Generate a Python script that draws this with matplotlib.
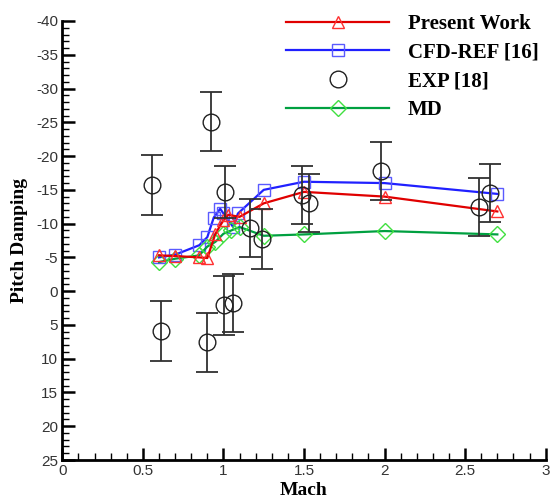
import matplotlib
matplotlib.use("Agg")
import matplotlib.pyplot as plt
from matplotlib.ticker import MultipleLocator
from matplotlib.lines import Line2D

plt.rcParams["axes.unicode_minus"] = False

# Data
present_mach = [0.6, 0.7, 0.85, 0.9, 0.95, 1.0, 1.03, 1.1, 1.25, 1.5, 2.0, 2.7]
present_pd = [-5.3, -5.2, -5.0, -4.9, -8.5, -10.5, -11.3, -11.0, -13.0, -14.7, -14.0, -11.8]

cfd_mach = [0.6, 0.7, 0.85, 0.9, 0.94, 0.98, 1.0, 1.06, 1.09, 1.25, 1.5, 2.0, 2.7]
cfd_pd = [-5.0, -5.4, -6.8, -8.0, -10.9, -12.2, -11.5, -9.5, -11.5, -15.0, -16.2, -16.0, -14.4]

exp_mach = [0.557, 0.613, 0.896, 0.923, 1.004, 1.01, 1.058, 1.165, 1.238, 1.486, 1.533, 1.976, 2.583, 2.655]
exp_pd = [-15.7, 5.9, 7.6, -25.1, 2.1, -14.7, 1.7, -9.3, -7.7, -14.2, -13.1, -17.8, -12.5, -14.6]
exp_err = [4.4, 4.4, 4.4, 4.4, 4.4, 3.8, 4.3, 4.3, 4.4, 4.3, 4.3, 4.3, 4.3, 4.3]

md_mach = [0.6, 0.7, 0.85, 0.9, 0.95, 1.0, 1.05, 1.1, 1.25, 1.5, 2.0, 2.7]
md_pd = [-4.3, -4.8, -5.3, -6.6, -7.3, -8.5, -9.0, -9.5, -8.2, -8.4, -8.9, -8.4]

labels = ["Present Work", "CFD-REF [16]", "EXP [18]", "MD"]

W, H = 553, 499
fig = plt.figure(figsize=(W / 100, H / 100), dpi=100)
ax = fig.add_axes([62.3 / W, 1 - 460 / H, (545.7 - 62.3) / W, (460 - 21) / H])

red_style = dict(color="#e00000", lw=1.6, marker="^", ms=9, mfc="none", mec="#ff3030", mew=1.0)
blue_style = dict(color="#2020ff", lw=1.6, marker="s", ms=8, mfc="none", mec="#5a5aff", mew=1.0)
green_style = dict(color="#00a040", lw=1.6, marker="D", ms=8, mfc="none", mec="#40e040", mew=1.0)
circ_style = dict(marker="o", ms=12, mfc="none", mec="#202020", mew=1.0)

ax.plot(present_mach, present_pd, zorder=4, **red_style)
ax.plot(cfd_mach, cfd_pd, zorder=3, **blue_style)
ax.errorbar(exp_mach, exp_pd, yerr=exp_err, fmt="none", ecolor="#303030",
            elinewidth=1.3, capsize=8, capthick=1.3, zorder=5)
ax.plot(exp_mach, exp_pd, ls="none", zorder=6, **circ_style)
ax.plot(md_mach, md_pd, zorder=3, **green_style)

ax.set_xlim(0, 3)
ax.set_ylim(25, -40)
ax.xaxis.set_minor_locator(MultipleLocator(0.1))
ax.yaxis.set_major_locator(MultipleLocator(5))
ax.yaxis.set_minor_locator(MultipleLocator(1))
ax.set_xticks([0, 0.5, 1, 1.5, 2, 2.5, 3])
ax.set_xticklabels(["0", "0.5", "1", "1.5", "2", "2.5", "3"])

for s in ["top", "right"]:
    ax.spines[s].set_visible(False)
for s in ["left", "bottom"]:
    ax.spines[s].set_linewidth(2.0)

ax.tick_params(which="major", direction="in", length=9, width=1.8,
               labelsize=11, labelcolor="#333333", pad=3)
ax.tick_params(which="minor", direction="in", length=5, width=1.0)
for lab in ax.get_xticklabels() + ax.get_yticklabels():
    lab.set_family("Liberation Sans")

ax.set_xlabel("Mach", family="Liberation Serif", fontweight="bold", fontsize=14, labelpad=3)
ax.set_ylabel("Pitch Damping", family="Liberation Serif", fontweight="bold", fontsize=14, labelpad=6)

handles = [
    Line2D([], [], **red_style),
    Line2D([], [], **blue_style),
    Line2D([], [], ls="none", **circ_style),
    Line2D([], [], **green_style),
]
leg = fig.legend(handles, labels, loc="upper left",
                 bbox_to_anchor=(286 / W, 1 - 14 / H), bbox_transform=fig.transFigure,
                 frameon=False, borderpad=0, borderaxespad=0,
                 handlelength=4.95, handletextpad=0.9, labelspacing=0.42,
                 prop={"family": "Liberation Serif", "weight": "bold", "size": 15},
                 numpoints=1)

fig.savefig("out.png", dpi=100)
